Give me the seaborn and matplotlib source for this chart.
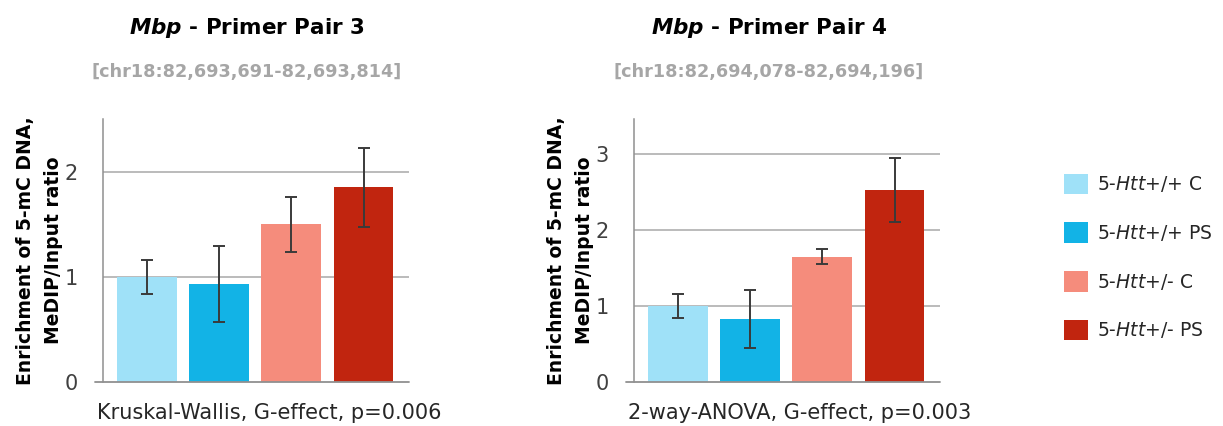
import matplotlib
matplotlib.use("Agg")
import matplotlib.pyplot as plt
import seaborn as sns
import pandas as pd
from matplotlib.patches import Patch

# Groups and colours
groups = ["5-Htt+/+ C", "5-Htt+/+ PS", "5-Htt+/- C", "5-Htt+/- PS"]
legend_labels = [r"$\mathit{5\text{-}Htt}$+/+ C", r"$\mathit{5\text{-}Htt}$+/+ PS",
                 r"$\mathit{5\text{-}Htt}$+/- C", r"$\mathit{5\text{-}Htt}$+/- PS"]
colors = ["#9fe1f8", "#12b3e6", "#f58c7c", "#c1250f"]

# Primer pair 3
pp3_mean = [1.00, 0.93, 1.50, 1.85]
pp3_err = [0.16, 0.36, 0.26, 0.375]
# Primer pair 4
pp4_mean = [1.00, 0.83, 1.65, 2.53]
pp4_err = [0.16, 0.38, 0.10, 0.42]

titles = [r"$\mathbfit{Mbp}$ - Primer Pair 3", r"$\mathbfit{Mbp}$ - Primer Pair 4"]
regions = ["[chr18:82,693,691-82,693,814]", "[chr18:82,694,078-82,694,196]"]
stats = ["Kruskal-Wallis, G-effect, p=0.006", "2-way-ANOVA, G-effect, p=0.003"]
yticks = [[0, 1, 2], [0, 1, 2, 3]]
ymax = [2.5, 3.46]
ylabel = "Enrichment of 5-mC DNA,\nMeDIP/Input ratio"

sns.set_theme(style="white")
plt.rcParams["font.family"] = ["DejaVu Sans"]
plt.rcParams["mathtext.fontset"] = "dejavusans"

W, H = 1223, 426
fig = plt.figure(figsize=(W / 100, H / 100), dpi=100)

axes_px = [(103, 409), (634, 940)]
title_x = [247, 769]
bottom_px, top_px = 382, 119

for i, (means, errs) in enumerate([(pp3_mean, pp3_err), (pp4_mean, pp4_err)]):
    x0, x1 = axes_px[i]
    ax = fig.add_axes([x0 / W, 1 - bottom_px / H, (x1 - x0) / W, (bottom_px - top_px) / H])
    df = pd.DataFrame({"group": groups, "value": means, "err": errs})
    sns.barplot(data=df, x="group", y="value", hue="group", palette=colors,
                order=groups, hue_order=groups, width=0.83, errorbar=None,
                legend=False, ax=ax, saturation=1, linewidth=0)
    ax.errorbar(range(len(groups)), df["value"], yerr=df["err"], fmt="none",
                ecolor="#3a3a3a", elinewidth=1.4, capsize=4.5, capthick=1.4, zorder=5)
    ax.set_xlim(-0.61, 3.63)
    ax.set_ylim(0, ymax[i])
    ax.set_yticks(yticks[i])
    ax.set_yticklabels([str(t) for t in yticks[i]], fontsize=15, color="#404040")
    ax.tick_params(axis="y", length=0, pad=18)
    ax.set_xticks([])
    ax.set_xlabel("")
    ax.set_ylabel(ylabel, fontsize=13.5, fontweight="bold", color="black", labelpad=1,
                  linespacing=1.65)
    for t in yticks[i][1:]:
        ax.axhline(t, color="#a8a8a8", lw=1.1, zorder=0)
    ax.axhline(0, xmin=-0.026, xmax=1, color="#909090", lw=1.3, clip_on=False, zorder=6)
    for s in ["top", "right", "bottom"]:
        ax.spines[s].set_visible(False)
    ax.spines["left"].set_color("#909090")
    ax.spines["left"].set_linewidth(1.1)

    fig.text(title_x[i] / W, 1 - 28 / H, titles[i], ha="center", va="center",
             fontsize=15.5, fontweight="bold", color="black")
    fig.text(title_x[i] / W, 1 - 72 / H, regions[i], ha="center", va="center",
             fontsize=12.7, fontweight="bold", color="#a6a6a6")
    fig.text((x0 - 6) / W, 1 - 413 / H, stats[i], ha="left", va="center",
             fontsize=15, color="#262626")

handles = [Patch(facecolor=c, edgecolor="none") for c in colors]
fig.legend(handles, legend_labels, loc="center left", bbox_to_anchor=(1047 / W, 1 - 257 / H),
           frameon=False, fontsize=13.5, handlelength=1.3, handleheight=1.3,
           labelspacing=1.5, handletextpad=0.45, labelcolor="#262626")

fig.savefig("out.png", dpi=100)
